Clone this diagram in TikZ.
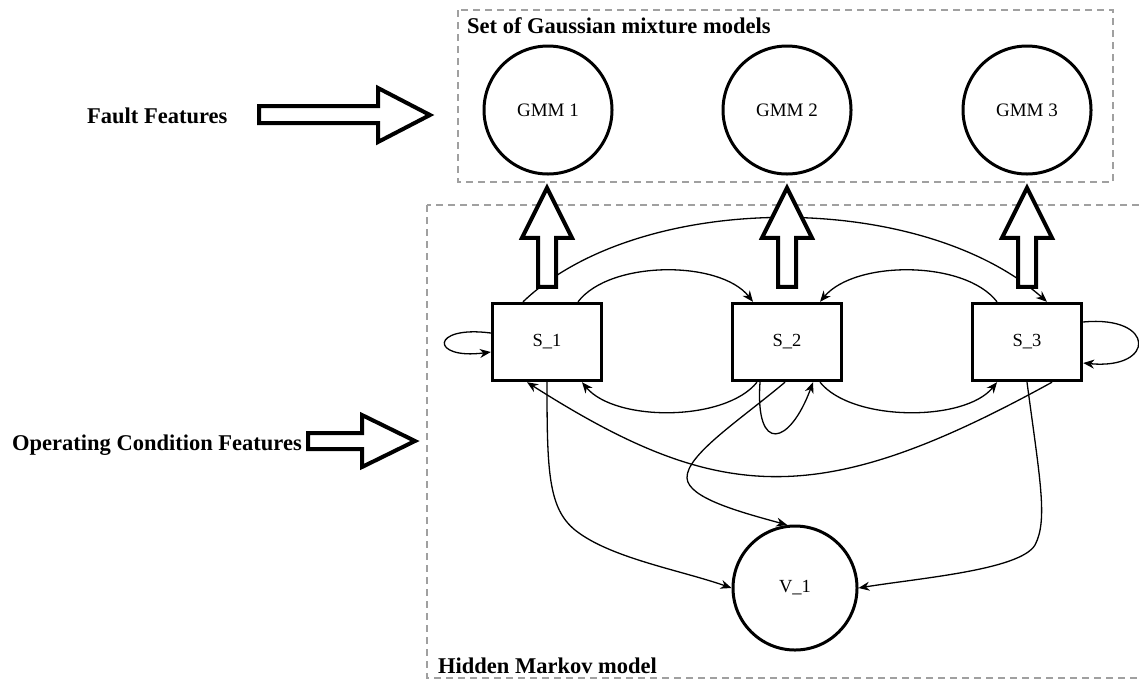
\documentclass[tikz,border=0pt]{standalone}
\usepackage{fontspec}
\setmainfont{Liberation Serif}
\usetikzlibrary{arrows.meta,calc}
\definecolor{dashgray}{RGB}{160,160,160}
\begin{document}
\begin{tikzpicture}[x=1pt,y=-1pt,
  gmm/.style={circle, draw, line width=3pt, minimum size=128pt, inner sep=0pt, font=\fontsize{19}{22}\selectfont},
  obs/.style={circle, draw, line width=3pt, minimum size=124pt, inner sep=0pt, font=\fontsize{18.5}{22}\selectfont},
  state/.style={rectangle, draw, line width=3.4pt, minimum width=109pt, minimum height=77pt, inner sep=0pt, font=\fontsize{18.5}{22}\selectfont},
  conn/.style={line width=1.3pt, -{Stealth[length=11pt,width=9pt]}},
  blockarrow/.style={line width=4pt, fill=white, line join=miter},
  group/.style={draw=dashgray, dash pattern=on 7pt off 5pt, line width=2.6pt},
  title/.style={font=\bfseries\fontsize{22.5}{27}\selectfont, anchor=base west, inner sep=0pt}
]
\useasboundingbox (0,0) rectangle (1139,681);

% groups
\draw[group] (458,10) rectangle (1113,182);
\draw[group] (427,205) rectangle (1150,678);
\node[title] (tgmm) at (467,33) {Set of Gaussian mixture models};
\node[title] (thmm) at (438,673) {Hidden Markov model};

% nodes
\node[gmm] (g1) at (548,110) {GMM 1};
\node[gmm] (g2) at (787,110) {GMM 2};
\node[gmm] (g3) at (1027,110) {GMM 3};
\node[state] (s1) at (547,342) {S\_1};
\node[state] (s2) at (787,342) {S\_2};
\node[state] (s3) at (1027,342) {S\_3};
\node[obs] (v1) at (795,588) {V\_1};

% left labels
\node[title] (ff) at (87,123) {Fault Features};
\node[title] (ocf) at (12,450) {Operating Condition Features};

% connectors
\draw[conn] ([xshift=-24pt]s1.north) .. controls (640,190) and (920,190) .. ([xshift=20pt]s3.north);
\draw[conn] ([xshift=31pt]s1.north) .. controls (610,260) and (720,260) .. ([xshift=-34pt]s2.north);
\draw[conn] ([xshift=-30pt]s3.north) .. controls (965,260) and (855,260) .. ([xshift=33pt]s2.north);
\draw[conn] ([xshift=-30pt]s2.south) .. controls (725,422) and (615,422) .. ([xshift=35pt]s1.south);
\draw[conn] ([xshift=33pt]s2.south) .. controls (852,422) and (965,422) .. ([xshift=-30pt]s3.south);
\draw[conn] ([xshift=-27pt]s2.south) .. controls (755,455) and (790,445) .. ([xshift=26pt]s2.south);
\draw[conn] ([xshift=25pt]s3.south) .. controls (820,510) and (720,505) .. ([xshift=-20pt]s1.south);
\draw[conn] ([yshift=9pt]s1.west) .. controls (430,325) and (430,360) .. ([yshift=-10pt]s1.west);
\draw[conn] ([yshift=20pt]s3.east) .. controls (1156,315) and (1156,370) .. ([yshift=-21pt]s3.east);
\draw[conn] ([xshift=-2pt]s2.south) .. controls (740,420) and (686,455) .. (687,478) .. controls (688,498) and (740,512) .. (v1.97);
\draw[conn] (s1.south) .. controls (547,470) and (548,508) .. (575,530) .. controls (610,558) and (680,570) .. (v1.west);
\draw[conn] (s3.south) .. controls (1040,480) and (1048,520) .. (1035,545) .. controls (1020,570) and (920,578) .. (v1.east);

% block arrows up (state -> GMM)
\foreach \s in {s1,s2,s3}{
  \draw[blockarrow] ([xshift=-9pt,yshift=15pt]\s.north) -- ++(0,-49) -- ++(-16,0) -- ++(25,-50) -- ++(25,50) -- ++(-16,0) -- ++(0,49) -- cycle;
}
% block arrows right
\draw[blockarrow] (259,106) -- (378,106) -- (378,88) -- (430,115) -- (378,142) -- (378,123) -- (259,123) -- cycle;
\draw[blockarrow] (308,433) -- (362,433) -- (362,415) -- (415,441) -- (362,467) -- (362,449) -- (308,449) -- cycle;
\end{tikzpicture}
\end{document}
